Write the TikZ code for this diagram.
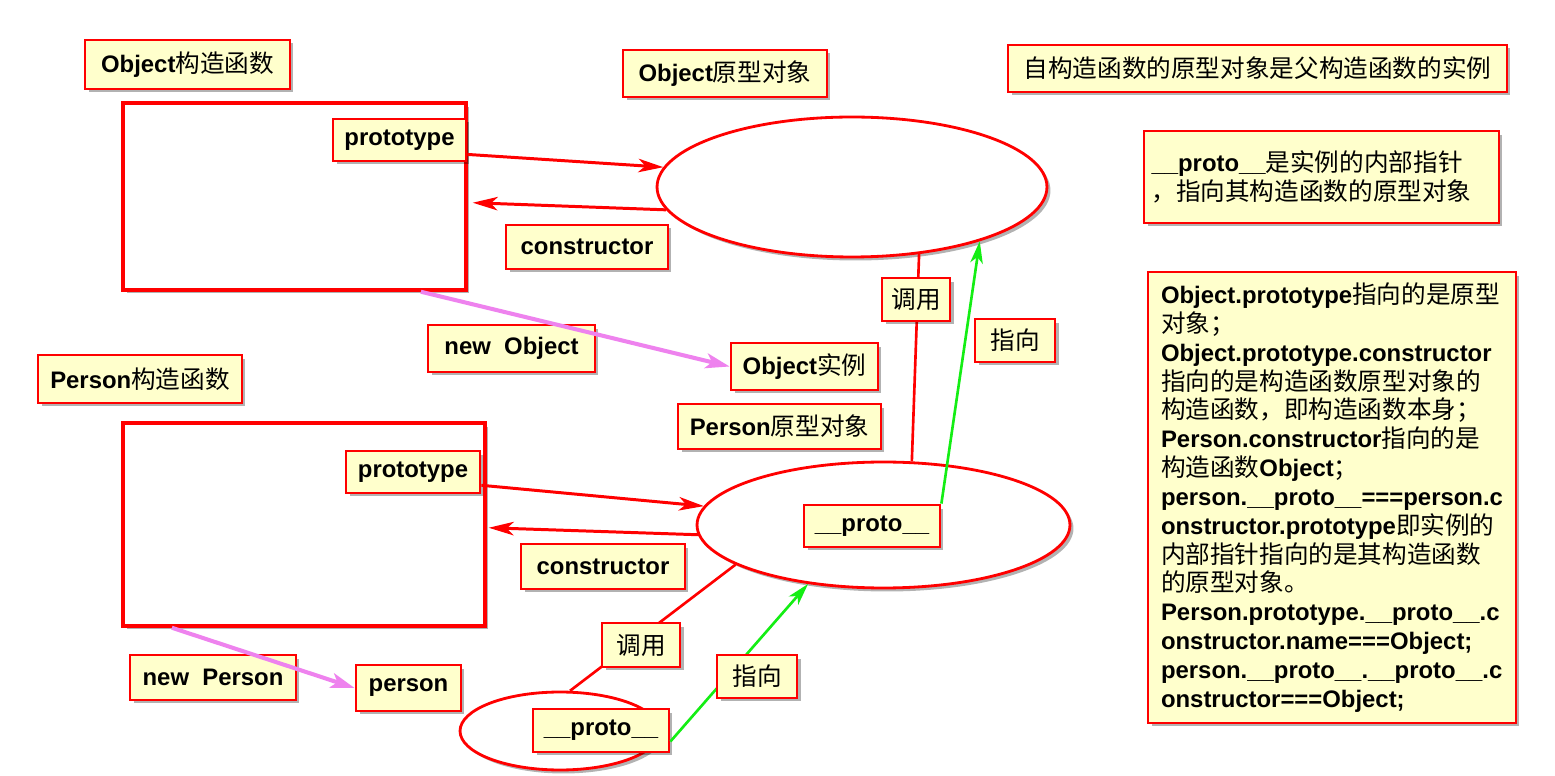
\documentclass[tikz,border=0pt]{standalone}
\usepackage{fontspec}
\setmainfont{Liberation Sans}
\newfontfamily\cjk{Noto Sans CJK SC}[Scale=1.03]
\usetikzlibrary{arrows.meta,shadows,shapes.geometric}
\definecolor{notefill}{RGB}{255,255,204}
\definecolor{linkred}{RGB}{255,0,0}
\definecolor{pointgreen}{RGB}{20,238,20}
\definecolor{newviolet}{RGB}{238,130,238}
\newcommand\zh[1]{{\cjk\mdseries #1}}

\begin{document}
\begin{tikzpicture}[x=0.02cm, y=-0.02cm,
    shade/.style = {drop shadow={shadow xshift=0.07cm, shadow yshift=-0.07cm, opacity=0.3, fill=black}},
    lbl/.style = {draw=linkred, line width=1.6pt, fill=notefill, inner sep=0pt, shade,
                  font=\fontsize{13.6pt}{16.4pt}\selectfont\bfseries},
    fun/.style = {draw=linkred, line width=2pt, fill=white, inner sep=0pt, shade},
    obj/.style = {draw=linkred, ellipse, line width=1.6pt, fill=white, inner sep=0pt, shade},
    redarrow/.style = {draw=linkred, line width=1.7pt, -{Stealth[length=0.5cm, width=0.27cm, inset=0.14cm]}},
    greenarrow/.style = {draw=pointgreen, line width=1.5pt, -{Stealth[length=0.44cm, width=0.25cm, inset=0.12cm]}},
    violetarrow/.style = {draw=newviolet, line width=2.3pt, -{Stealth[length=0.48cm, width=0.3cm, inset=0.12cm]}},
    callline/.style = {draw=linkred, line width=1.5pt}]
    \fill[white] (0,0) rectangle (1555,776);
    \useasboundingbox (0,0) rectangle (1555,776);

    % Object constructor and its prototype
    \node[lbl, minimum width=4.1cm, minimum height=0.98cm] (objctorlbl) at (187.5,64.5) {Object\zh{构造函数}};
    \node[fun, minimum width=6.86cm, minimum height=3.74cm] (objfun) at (294.5,196.5) {};
    \node[lbl, minimum width=2.66cm, minimum height=0.84cm] (objproto) at (399.5,140) {prototype};
    \node[lbl, minimum width=4.08cm, minimum height=0.94cm] (objprotolbl) at (725,73.5) {Object\zh{原型对象}};
    \node[obj, minimum width=7.8cm, minimum height=2.8cm] (objprotoobj) at (852,187) {};
    \node[lbl, minimum width=3.24cm, minimum height=0.88cm] (objcons) at (587,247) {constructor};

    % Person constructor and its prototype
    \node[lbl, minimum width=4.08cm, minimum height=0.96cm] (perctorlbl) at (140,379) {Person\zh{构造函数}};
    \node[fun, minimum width=7.24cm, minimum height=4.06cm] (perfun) at (304,524.5) {};
    \node[lbl, minimum width=2.68cm, minimum height=0.84cm] (perproto) at (413,472) {prototype};
    \node[lbl, minimum width=4.06cm, minimum height=0.9cm] (perprotolbl) at (779.5,426.5) {Person\zh{原型对象}};
    \node[obj, minimum width=7.46cm, minimum height=2.52cm] (perprotoobj) at (883.5,525) {};
    \node[lbl, minimum width=2.72cm, minimum height=0.84cm] (perprotop) at (872,526) {\_\_proto\_\_};
    \node[lbl, minimum width=3.28cm, minimum height=0.9cm] (percons) at (603,566.5) {constructor};

    % instance
    \node[obj, minimum width=4cm, minimum height=1.56cm] (instobj) at (560,731) {};
    \node[lbl, minimum width=2.72cm, minimum height=0.86cm] (instproto) at (601,730.5) {\_\_proto\_\_};

    % notes
    \node[lbl, minimum width=9.98cm, minimum height=0.94cm] (inherit) at (1257.5,68.5) {\zh{自构造函数的原型对象是父构造函数的实例}};
    \node[lbl, minimum width=7.1cm, minimum height=1.84cm, text width=6.8cm, align=left] (protonote) at (1321.5,177)
        {\_\_proto\_\_\zh{是实例的内部指针}\\\zh{，指向其构造函数的原型对象}};
    \node[lbl, minimum width=7.36cm, minimum height=9.02cm, align=left] (chainnote) at (1332,497.5) {%
        Object.prototype\zh{指向的是原型}\\
        \zh{对象；}\\
        Object.prototype.constructor\\
        \zh{指向的是构造函数原型对象的}\\
        \zh{构造函数，即构造函数本身；}\\
        Person.constructor\zh{指向的是}\\
        \zh{构造函数}Object\zh{；}\\
        person.\_\_proto\_\_===person.c\\
        onstructor.prototype\zh{即实例的}\\
        \zh{内部指针指向的是其构造函数}\\
        \zh{的原型对象。}\\
        Person.prototype.\_\_proto\_\_.c\\
        onstructor.name===Object;\\
        person.\_\_proto\_\_.\_\_proto\_\_.c\\
        onstructor===Object;};

    % prototype / constructor links
    \draw[redarrow] (objproto.-12) -- (objprotoobj.174);
    \draw[redarrow, shorten >=0.1cm] (objprotoobj.187) -- (objfun.-2);
    \draw[redarrow] (perproto.-11) -- (perprotoobj.174);
    \draw[redarrow, shorten >=0.04cm] (perprotoobj.183) -- (perfun.-1);

    % calls and pointers
    \draw[callline] (objprotoobj.-45) -- (perprotoobj.66);
    \draw[callline] (perprotoobj.195) -- (instobj.76);
    \draw[greenarrow] (perprotop.north east) -- (objprotoobj.-23);
    \draw[greenarrow] (instproto.-9) -- (perprotoobj.218);
    \node[lbl, minimum width=1.36cm, minimum height=0.86cm] (calltop) at (916,299.5) {\zh{调用}};
    \node[lbl, minimum width=1.6cm, minimum height=0.86cm] (pointtop) at (1015,340.5) {\zh{指向}};
    \node[lbl, minimum width=1.56cm, minimum height=0.88cm] (callbot) at (641,645) {\zh{调用}};
    \node[lbl, minimum width=1.6cm, minimum height=0.86cm] (pointbot) at (757,676.5) {\zh{指向}};

    % new
    \node[lbl, minimum width=3.34cm, minimum height=0.94cm] (newobj) at (511.5,348.5) {new\ \ Object};
    \node[lbl, minimum width=2.94cm, minimum height=0.94cm] (objinst) at (804.5,366.5) {Object\zh{实例}};
    \node[lbl, minimum width=3.32cm, minimum height=0.9cm] (newper) at (213,677.5) {new\ \ Person};
    \node[lbl, minimum width=2.1cm, minimum height=0.92cm] (perinst) at (408.5,688) {person};
    \draw[violetarrow] (objfun.-37) -- (objinst.west);
    \draw[violetarrow] (perfun.218) -- (perinst.west);
\end{tikzpicture}
\end{document}
